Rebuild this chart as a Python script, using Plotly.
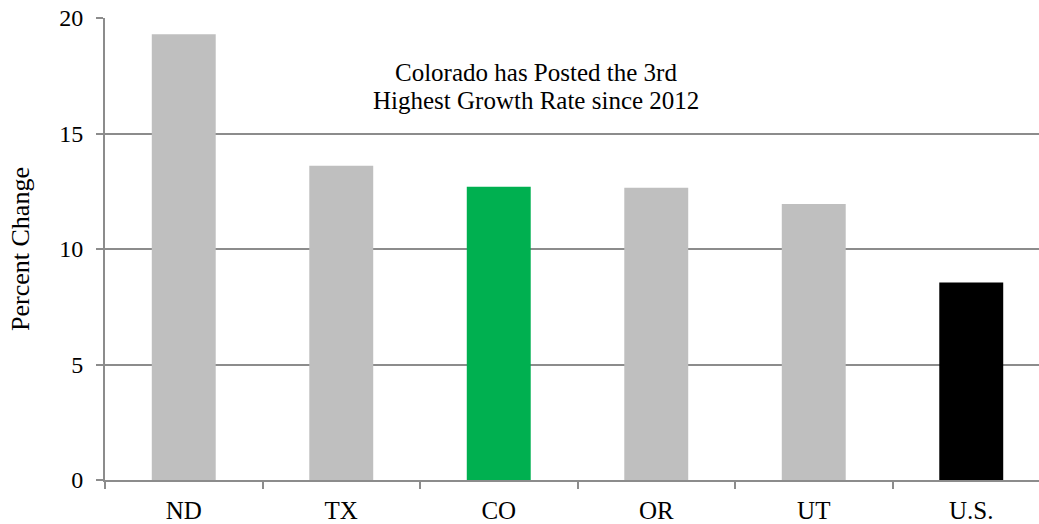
import plotly.graph_objects as go

states = ["ND", "TX", "CO", "OR", "UT", "U.S."]
pct_change = [19.3, 13.6, 12.7, 12.65, 11.95, 8.55]
bar_colors = ["#bfbfbf", "#bfbfbf", "#00b050", "#bfbfbf", "#bfbfbf", "#000000"]
y_ticks = [0, 5, 10, 15, 20]
note_lines = ["Colorado has Posted the 3rd", "Highest Growth Rate since 2012"]

serif = "Liberation Serif, Times New Roman, serif"
axis_gray = "#8c8c8c"

W, H = 1039, 524
L, R, T, B = 105, 0, 18, 42
plot_w = W - L - R
plot_h = H - T - B


def px_to_paper(px, py):
    return (px - L) / plot_w, (H - B - py) / plot_h


fig = go.Figure(
    go.Bar(
        x=states,
        y=pct_change,
        marker=dict(color=bar_colors, line=dict(width=0)),
        width=0.406,
    )
)

notes = []
for line, py in zip(note_lines, [73, 101]):
    ax, ay = px_to_paper(536, py)
    notes.append(dict(
        text=line, x=ax, y=ay, xref="paper", yref="paper",
        showarrow=False, xanchor="center", yanchor="middle",
        font=dict(family=serif, size=25, color="#000"),
    ))

fig.update_layout(
    width=W,
    height=H,
    margin=dict(l=L, r=R, t=T, b=B),
    paper_bgcolor="white",
    plot_bgcolor="white",
    showlegend=False,
    font=dict(family=serif, size=24, color="#000"),
    annotations=notes,
)

fig.update_xaxes(
    type="category",
    range=[-0.5, -0.5 + plot_w / 157.5],
    showline=True, linecolor=axis_gray, linewidth=2,
    ticks="outside", tickson="boundaries", ticklen=7, tickcolor=axis_gray, tickwidth=2,
    showgrid=False,
    tickfont=dict(family=serif, size=25, color="#000"),
    ticklabelstandoff=7,
)
fig.update_yaxes(
    range=[0, 20],
    tickvals=y_ticks,
    showline=True, linecolor=axis_gray, linewidth=2,
    ticks="outside", ticklen=7, tickcolor=axis_gray, tickwidth=2,
    showgrid=True, gridcolor=axis_gray, gridwidth=2,
    zeroline=False,
    tickfont=dict(family=serif, size=24, color="#000"),
    ticklabelstandoff=8,
    title=dict(text="Percent Change", font=dict(family=serif, size=26, color="#000"), standoff=22),
)

fig.write_html("out.html")
